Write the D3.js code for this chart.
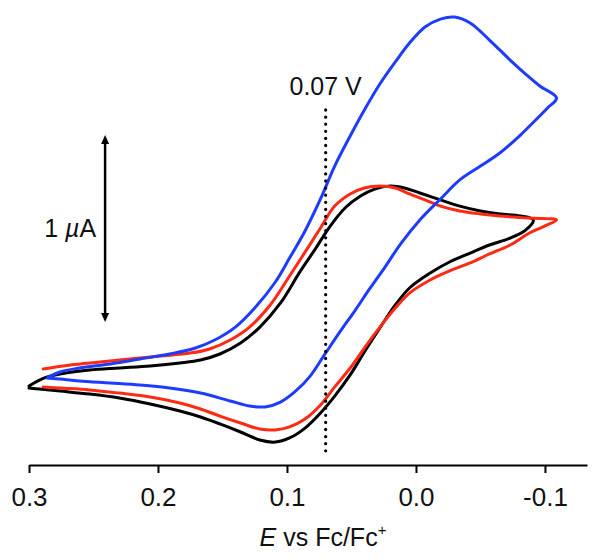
<!DOCTYPE html>
<html>
<head>
<meta charset="utf-8">
<script src="https://cdn.jsdelivr.net/npm/d3@7"></script>
<style>
  html, body { margin: 0; padding: 0; background: #fff; }
  svg { display: block; font-family: "Liberation Sans", Arial, sans-serif; }
</style>
</head>
<body>
<svg id="chart" width="600" height="560"></svg>
<script>
// ---- data: potential E (V vs Fc/Fc+), current I (µA) ----
const tickValues = [0.3, 0.2, 0.1, 0.0, -0.1];
const tickLabels = ["0.3", "0.2", "0.1", "0.0", "-0.1"];
const markerPotential = 0.07;
const markerLabel = "0.07 V";
const scaleBarCurrent = [0.31, 1.31];

const blackCV = [
  [0.300,-0.032],[0.288,0.011],[0.276,0.032],[0.253,0.053],[0.230,0.064],[0.206,0.075],[0.183,0.091],
  [0.167,0.107],[0.152,0.139],[0.136,0.198],[0.121,0.283],[0.105,0.412],[0.090,0.578],[0.078,0.701],
  [0.067,0.818],[0.055,0.920],[0.043,0.984],[0.032,1.021],[0.020,1.037],[0.009,1.027],[-0.003,1.000],
  [-0.019,0.963],[-0.034,0.930],[-0.050,0.904],[-0.065,0.888],[-0.081,0.877],[-0.091,0.856],
  [-0.085,0.802],[-0.073,0.759],[-0.057,0.722],[-0.042,0.679],[-0.026,0.631],[-0.011,0.572],[0.005,0.492],
  [0.016,0.401],[0.028,0.278],[0.040,0.150],[0.051,0.027],[0.063,-0.086],[0.074,-0.176],[0.086,-0.257],
  [0.098,-0.310],[0.109,-0.332],[0.121,-0.321],[0.136,-0.278],[0.152,-0.235],[0.167,-0.198],[0.183,-0.166],
  [0.206,-0.128],[0.230,-0.096],[0.253,-0.075],[0.276,-0.059],[0.292,-0.048],[0.300,-0.043]
];

const redCV = [
  [0.289,0.059],[0.268,0.080],[0.245,0.096],[0.222,0.112],[0.198,0.128],[0.175,0.144],[0.160,0.166],
  [0.144,0.214],[0.129,0.283],[0.113,0.401],[0.098,0.556],[0.086,0.684],[0.074,0.813],[0.063,0.930],
  [0.051,0.995],[0.040,1.027],[0.028,1.037],[0.016,1.027],[0.005,0.995],[-0.007,0.963],[-0.019,0.930],
  [-0.034,0.904],[-0.050,0.888],[-0.065,0.877],[-0.088,0.866],[-0.109,0.856],
  [-0.100,0.824],[-0.088,0.786],[-0.073,0.722],[-0.057,0.674],[-0.042,0.626],[-0.026,0.583],[-0.011,0.535],
  [0.005,0.465],[0.016,0.385],[0.028,0.283],[0.040,0.171],[0.051,0.064],[0.063,-0.037],[0.074,-0.134],
  [0.086,-0.209],[0.098,-0.251],[0.109,-0.267],[0.121,-0.262],[0.136,-0.230],[0.152,-0.193],[0.167,-0.155],
  [0.183,-0.123],[0.206,-0.091],[0.230,-0.070],[0.253,-0.053],[0.276,-0.043],[0.289,-0.037]
];

const blueCV = [
  [0.286,0.011],[0.276,0.043],[0.261,0.064],[0.237,0.086],[0.214,0.112],[0.191,0.139],[0.171,0.171],
  [0.156,0.214],[0.140,0.283],[0.125,0.385],[0.109,0.524],[0.098,0.652],[0.086,0.797],[0.074,0.968],
  [0.063,1.144],[0.051,1.305],[0.040,1.444],[0.028,1.583],[0.016,1.701],[0.005,1.802],[-0.007,1.888],
  [-0.019,1.930],[-0.030,1.941],[-0.042,1.909],[-0.057,1.818],[-0.073,1.711],[-0.085,1.636],[-0.096,1.572],
  [-0.109,1.508],
  [-0.102,1.455],[-0.092,1.385],[-0.081,1.310],[-0.065,1.214],[-0.050,1.144],[-0.034,1.070],[-0.019,0.968],
  [-0.003,0.856],[0.012,0.727],[0.024,0.604],[0.036,0.487],[0.047,0.374],[0.059,0.257],[0.071,0.134],
  [0.082,0.021],[0.094,-0.064],[0.105,-0.118],[0.117,-0.144],[0.129,-0.139],[0.144,-0.112],[0.167,-0.070],
  [0.191,-0.043],[0.214,-0.027],[0.237,-0.016],[0.261,-0.005],[0.276,0.005],[0.286,0.011]
];

const series = [
  { name: "black", data: blackCV, color: "#000000" },
  { name: "red",   data: redCV,   color: "#ff2a14" },
  { name: "blue",  data: blueCV,  color: "#1e3cff" }
];

// ---- scales ----
const svg = d3.select("#chart");
const x = d3.scaleLinear().domain([0.3, -0.1326]).range([29, 587]);
const y = d3.scaleLinear().domain([0, 1]).range([380, 193]);
const axisY = 465;

// ---- axis ----
const axis = d3.axisBottom(x)
  .tickValues(tickValues)
  .tickFormat((d, i) => tickLabels[i])
  .tickSizeInner(8)
  .tickSizeOuter(0)
  .tickPadding(15);

const gAxis = svg.append("g").attr("transform", `translate(0,${axisY})`).call(axis);
gAxis.select(".domain").attr("stroke", "#000").attr("stroke-width", 2);
gAxis.selectAll(".tick line").attr("stroke", "#000").attr("stroke-width", 2);
gAxis.selectAll(".tick text")
  .attr("fill", "#111")
  .style("font-family", "'Liberation Sans', Arial, sans-serif")
  .style("font-size", "26px");

// axis title
const title = svg.append("text")
  .attr("x", 323).attr("y", 546)
  .attr("text-anchor", "middle")
  .attr("fill", "#111")
  .style("font-size", "25px");
title.append("tspan").attr("font-style", "italic").text("E");
title.append("tspan").text(" vs Fc/Fc");
title.append("tspan").attr("font-size", "15px").attr("dy", -11).text("+");

// ---- curves ----
const line = d3.line()
  .x(d => x(d[0]))
  .y(d => y(d[1]))
  .curve(d3.curveCatmullRom.alpha(0.5));

svg.append("g").selectAll("path")
  .data(series)
  .join("path")
  .attr("d", d => line(d.data))
  .attr("fill", "none")
  .attr("stroke", d => d.color)
  .attr("stroke-width", 3)
  .attr("stroke-linejoin", "round")
  .attr("stroke-linecap", "round");

// ---- dotted marker line ----
svg.append("line")
  .attr("x1", x(markerPotential)).attr("x2", x(markerPotential))
  .attr("y1", y(1.444)).attr("y2", y(-0.385))
  .attr("stroke", "#000")
  .attr("stroke-width", 3.2)
  .attr("stroke-linecap", "round")
  .attr("stroke-dasharray", "0.1 7");

svg.append("text")
  .attr("x", x(markerPotential)).attr("y", 95)
  .attr("text-anchor", "middle")
  .attr("fill", "#111")
  .style("font-size", "25px")
  .text(markerLabel);

// ---- scale bar (double arrow) ----
const barX = x(0.241);
const yTop = y(scaleBarCurrent[1]);
const yBot = y(scaleBarCurrent[0]);
svg.append("line")
  .attr("x1", barX).attr("x2", barX)
  .attr("y1", yTop + 6).attr("y2", yBot - 6)
  .attr("stroke", "#000").attr("stroke-width", 2.5);
svg.append("path")
  .attr("d", `M${barX},${yTop} L${barX - 4},${yTop + 9} L${barX + 4},${yTop + 9} Z`)
  .attr("fill", "#000");
svg.append("path")
  .attr("d", `M${barX},${yBot} L${barX - 4},${yBot - 9} L${barX + 4},${yBot - 9} Z`)
  .attr("fill", "#000");

const bl = svg.append("text")
  .attr("x", barX - 9).attr("y", (yTop + yBot) / 2 + 8)
  .attr("text-anchor", "end")
  .attr("fill", "#111")
  .style("font-size", "25px");
bl.append("tspan").text("1 ");
bl.append("tspan").attr("font-style", "italic").text("µ");
bl.append("tspan").text("A");
</script>
</body>
</html>
